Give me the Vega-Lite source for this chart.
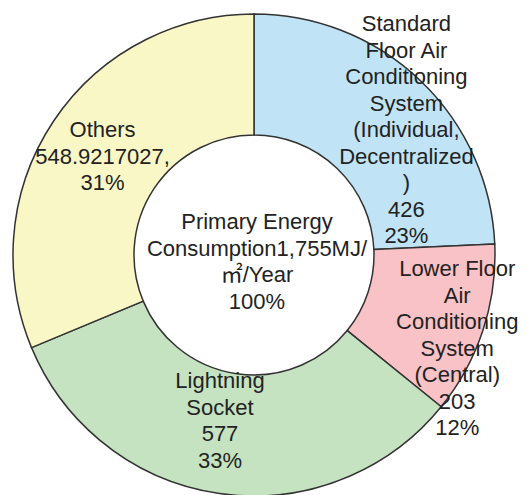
{
  "$schema": "https://vega.github.io/schema/vega-lite/v6.json",
  "width": 482,
  "height": 482,
  "autosize": "none",
  "padding": {"left": 13, "top": 14, "right": 32, "bottom": 0},
  "background": "white",
  "config": {
    "view": {"stroke": null},
    "text": {"font": "Liberation Sans, Noto Sans CJK JP", "fontSize": 22, "lineHeight": 26.5, "lineBreak": "\n", "fill": "#222222"}
  },
  "data": {
    "values": [
      {"rank": 1, "category": "Standard Floor Air Conditioning System (Individual, Decentralized)", "value": 426, "label": "Standard\nFloor Air\nConditioning\nSystem\n(Individual,\nDecentralized\n)\n426\n23%"},
      {"rank": 2, "category": "Lower Floor Air Conditioning System (Central)", "value": 203, "label": "Lower Floor\nAir\nConditioning\nSystem\n(Central)\n203\n12%"},
      {"rank": 3, "category": "Lightning Socket", "value": 577, "label": "Lightning\nSocket\n577\n33%"},
      {"rank": 4, "category": "Others", "value": 548.9217027, "label": "Others\n548.9217027,\n31%"}
    ]
  },
  "layer": [
    {
      "mark": {"type": "arc", "outerRadius": 241, "innerRadius": 120, "stroke": "#333333", "strokeWidth": 1.5},
      "encoding": {
        "theta": {"field": "value", "type": "quantitative", "stack": true},
        "order": {"field": "rank", "type": "quantitative"},
        "color": {
          "field": "category",
          "type": "nominal",
          "scale": {
            "domain": ["Standard Floor Air Conditioning System (Individual, Decentralized)", "Lower Floor Air Conditioning System (Central)", "Lightning Socket", "Others"],
            "range": ["#C0E4F6", "#F8C2C6", "#C5E3C1", "#FAF7C6"]
          },
          "legend": null
        }
      }
    },
    {
      "mark": {"type": "text", "radius": 196, "dx": 17, "dy": -89},
      "encoding": {
        "theta": {"field": "value", "type": "quantitative", "stack": true},
        "order": {"field": "rank", "type": "quantitative"},
        "text": {"condition": {"test": "datum.rank === 1", "field": "label", "type": "nominal"}, "value": ""}
      }
    },
    {
      "mark": {"type": "text", "radius": 215, "dx": -1, "dy": -53},
      "encoding": {
        "theta": {"field": "value", "type": "quantitative", "stack": true},
        "order": {"field": "rank", "type": "quantitative"},
        "text": {"condition": {"test": "datum.rank === 2", "field": "label", "type": "nominal"}, "value": ""}
      }
    },
    {
      "mark": {"type": "text", "radius": 168, "dx": -10, "dy": -40},
      "encoding": {
        "theta": {"field": "value", "type": "quantitative", "stack": true},
        "order": {"field": "rank", "type": "quantitative"},
        "text": {"condition": {"test": "datum.rank === 3", "field": "label", "type": "nominal"}, "value": ""}
      }
    },
    {
      "mark": {"type": "text", "radius": 182, "dx": 0, "dy": -24},
      "encoding": {
        "theta": {"field": "value", "type": "quantitative", "stack": true},
        "order": {"field": "rank", "type": "quantitative"},
        "text": {"condition": {"test": "datum.rank === 4", "field": "label", "type": "nominal"}, "value": ""}
      }
    },
    {
      "data": {"values": [{"label": "Primary Energy\nConsumption1,755MJ/\n㎡/Year\n100%"}]},
      "mark": {"type": "text", "dx": 3, "dy": -33},
      "encoding": {
        "text": {"field": "label", "type": "nominal"}
      }
    }
  ]
}
